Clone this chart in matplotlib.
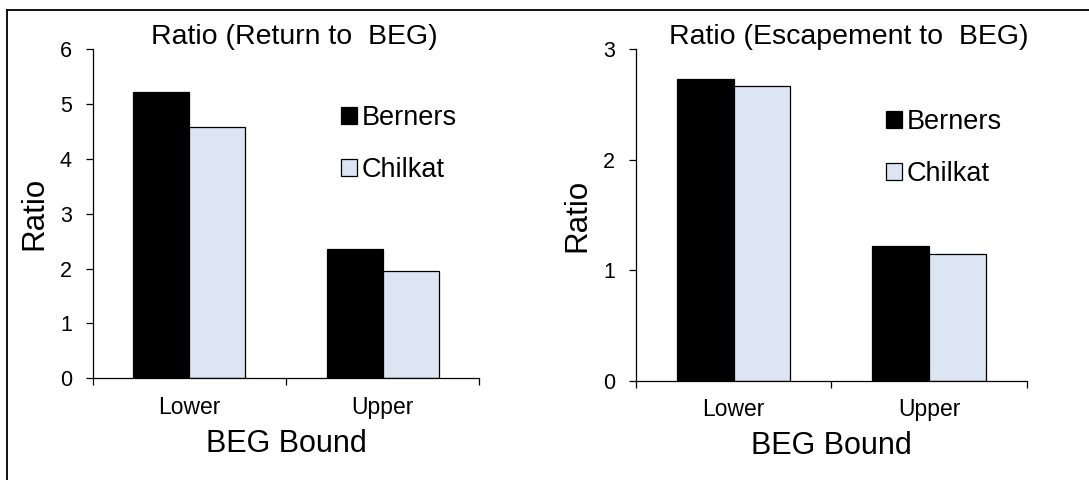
import matplotlib
matplotlib.use("Agg")
import matplotlib.pyplot as plt
import numpy as np
from matplotlib.patches import Patch
from matplotlib.lines import Line2D

plt.rcParams['font.family'] = ['Liberation Sans', 'DejaVu Sans']

categories = ["Lower", "Upper"]
series_names = ["Berners", "Chilkat"]
return_berners = [5.22, 2.36]
return_chilkat = [4.58, 1.96]
escape_berners = [2.73, 1.22]
escape_chilkat = [2.67, 1.15]
return_ticks = [0, 1, 2, 3, 4, 5, 6]
escape_ticks = [0, 1, 2, 3]

colors = {"Berners": "#000000", "Chilkat": "#DCE6F2"}
W, H = 1089, 480
fig = plt.figure(figsize=(W / 100, H / 100), dpi=100)

# Outer frame (top and left edges)
fig.add_artist(Line2D([7 / W, 7 / W], [0, 1 - 10 / H], color="black", lw=1.3,
                      transform=fig.transFigure))
fig.add_artist(Line2D([7 / W, 1], [1 - 10 / H, 1 - 10 / H], color="black", lw=1.3,
                      transform=fig.transFigure))


def panel(rect, berners, chilkat, yticks, title, title_x, leg_anchor):
    ax = fig.add_axes(rect)
    x = np.arange(len(categories))
    bw = 0.29
    ax.bar(x - bw / 2, berners, bw, color=colors["Berners"], edgecolor="black", lw=0.9)
    ax.bar(x + bw / 2, chilkat, bw, color=colors["Chilkat"], edgecolor="black", lw=0.9)
    ax.set_xlim(-0.5, len(categories) - 0.5)
    ax.set_ylim(yticks[0], yticks[-1])
    ax.set_yticks(yticks)
    ax.set_xticks(x)
    ax.set_xticklabels(categories, fontsize=16.5)
    ax.set_xticks(np.arange(len(categories) + 1) - 0.5, minor=True)
    ax.tick_params(axis="x", which="major", length=0, pad=12.5)
    ax.tick_params(axis="x", which="minor", length=5, width=0.9, direction="out")
    ax.tick_params(axis="y", length=5, width=0.9, direction="out", pad=10, labelsize=15.5)
    for s in ("top", "right"):
        ax.spines[s].set_visible(False)
    for s in ("left", "bottom"):
        ax.spines[s].set_linewidth(0.9)
    ax.set_ylabel("Ratio", fontsize=22.5, labelpad=7.5)
    ax.set_xlabel("BEG Bound", fontsize=22, labelpad=7.2)
    fig.text(title_x, 1 - 37 / H, title, fontsize=20.5, ha="center", va="center")
    handles = [Patch(facecolor=colors[n], edgecolor="black", lw=0.9) for n in series_names]
    ax.legend(handles, series_names, loc="center left", bbox_to_anchor=leg_anchor,
              frameon=False, fontsize=19.5, handlelength=0.59, handleheight=0.59,
              handletextpad=0.19, labelspacing=0.97, borderpad=0, borderaxespad=0)
    return ax


panel([92.7 / W, 1 - 378.3 / H, (479.3 - 92.7) / W, (378.3 - 49) / H],
      return_berners, return_chilkat, return_ticks,
      "Ratio (Return to  BEG)", 294.5 / W, (0.6415, 0.7115))
panel([635.7 / W, 1 - 381 / H, (1027 - 635.7) / W, (381 - 49.3) / H],
      escape_berners, escape_chilkat, escape_ticks,
      "Ratio (Escapement to  BEG)", 848.3 / W, (0.639, 0.7024))

fig.savefig("out.png", dpi=100)
